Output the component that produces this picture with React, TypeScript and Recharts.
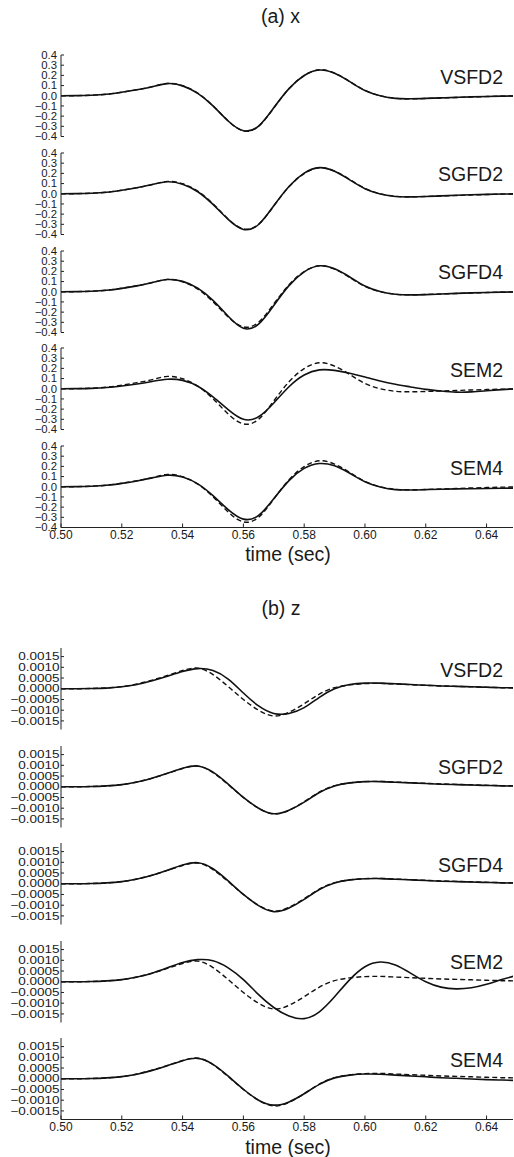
import React from 'react';
import { LineChart, Line, XAxis, YAxis } from 'recharts';

// time grid (sec)
const TIME = [
  0.5, 0.505, 0.51, 0.515, 0.52, 0.525, 0.53, 0.535, 0.54, 0.545, 0.55,
  0.555, 0.56, 0.565, 0.57, 0.575, 0.58, 0.585, 0.59, 0.595, 0.6,
  0.605, 0.61, 0.615, 0.62, 0.625, 0.63, 0.635, 0.64, 0.645, 0.65,
];
const X_TICKS = [0.5, 0.52, 0.54, 0.56, 0.58, 0.6, 0.62, 0.64];

// (a) x component — dashed reference and solid solutions
const X_REF = [0.0, 0.001, 0.005, 0.015, 0.035, 0.06, 0.09, 0.121, 0.098, 0.025, -0.098, -0.248, -0.345, -0.3, -0.12, 0.068, 0.198, 0.255, 0.222, 0.14, 0.052, 0.0, -0.025, -0.03, -0.027, -0.022, -0.017, -0.012, -0.008, -0.004, -0.002];
const X_VSFD2 = [0.0, 0.001, 0.005, 0.014, 0.034, 0.059, 0.089, 0.119, 0.097, 0.023, -0.1, -0.248, -0.343, -0.298, -0.118, 0.07, 0.199, 0.253, 0.22, 0.138, 0.051, 0.0, -0.026, -0.03, -0.026, -0.021, -0.016, -0.011, -0.007, -0.004, -0.002];
const X_SGFD2 = [0.0, 0.001, 0.005, 0.014, 0.034, 0.059, 0.09, 0.118, 0.094, 0.02, -0.105, -0.252, -0.35, -0.302, -0.118, 0.072, 0.202, 0.256, 0.22, 0.136, 0.049, -0.002, -0.027, -0.031, -0.027, -0.021, -0.015, -0.01, -0.006, -0.003, -0.001];
const X_SGFD4 = [0.0, 0.001, 0.005, 0.014, 0.033, 0.058, 0.09, 0.12, 0.102, 0.035, -0.085, -0.24, -0.358, -0.318, -0.135, 0.06, 0.195, 0.255, 0.225, 0.145, 0.056, 0.002, -0.025, -0.031, -0.028, -0.022, -0.016, -0.011, -0.007, -0.004, -0.002];
const X_SEM2 = [0.0, 0.001, 0.004, 0.012, 0.027, 0.047, 0.072, 0.093, 0.082, 0.025, -0.08, -0.205, -0.3, -0.275, -0.14, 0.02, 0.135, 0.185, 0.18, 0.152, 0.115, 0.076, 0.044, 0.018, -0.006, -0.022, -0.033, -0.031, -0.02, -0.009, 0.0];
const X_SEM4 = [0.0, 0.001, 0.005, 0.014, 0.033, 0.057, 0.087, 0.113, 0.095, 0.028, -0.088, -0.225, -0.318, -0.282, -0.118, 0.06, 0.18, 0.228, 0.205, 0.132, 0.05, -0.002, -0.028, -0.032, -0.028, -0.024, -0.021, -0.019, -0.017, -0.015, -0.013];

// (b) z component
const Z_REF = [0, 0, 0.00001, 0.00004, 0.0001, 0.00022, 0.0004, 0.00062, 0.00085, 0.00096, 0.00066, 0.0001, -0.0005, -0.001, -0.00127, -0.0011, -0.0007, -0.00025, 0.00005, 0.00018, 0.00024, 0.00025, 0.00022, 0.00019, 0.00016, 0.00013, 0.00011, 0.00009, 0.00007, 0.00005, 0.00004];
const Z_VSFD2 = [0, 0, 0.00001, 0.00003, 0.00009, 0.0002, 0.00037, 0.00058, 0.0008, 0.00094, 0.00085, 0.00045, -0.0002, -0.0008, -0.00115, -0.00115, -0.00088, -0.0004, 0, 0.0002, 0.00026, 0.00026, 0.00023, 0.0002, 0.00016, 0.00013, 0.00011, 0.00009, 0.00007, 0.00005, 0.00004];
const Z_SGFD2 = [0, 0, 0.00001, 0.00004, 0.0001, 0.00022, 0.0004, 0.00063, 0.00086, 0.00097, 0.00068, 0.00012, -0.0005, -0.001, -0.00126, -0.0011, -0.00072, -0.00027, 0.00004, 0.00018, 0.00024, 0.00024, 0.00021, 0.00018, 0.00015, 0.00012, 0.0001, 0.00008, 0.00006, 0.00004, 0.00003];
const Z_SGFD4 = [0, 0, 0.00001, 0.00004, 0.0001, 0.00022, 0.0004, 0.00063, 0.00087, 0.00098, 0.0007, 0.00013, -0.0005, -0.00102, -0.0013, -0.00113, -0.00073, -0.00027, 0.00004, 0.00018, 0.00023, 0.00024, 0.00021, 0.00018, 0.00015, 0.00012, 0.0001, 0.00008, 0.00006, 0.00004, 0.00003];
const Z_SEM2 = [0, 0, 0.00001, 0.00004, 0.0001, 0.00022, 0.0004, 0.00065, 0.0009, 0.00103, 0.00098, 0.00065, 0.0001, -0.0006, -0.0012, -0.0016, -0.00172, -0.0014, -0.0007, 0.0001, 0.0007, 0.00092, 0.00078, 0.0004, 0, -0.00025, -0.00033, -0.00028, -0.00012, 0.0001, 0.0003];
const Z_SEM4 = [0, 0, 0.00001, 0.00004, 0.0001, 0.00021, 0.00039, 0.00061, 0.00084, 0.00095, 0.00067, 0.00012, -0.00049, -0.001, -0.00123, -0.00108, -0.0007, -0.00026, 0.00004, 0.00017, 0.00022, 0.00021, 0.00017, 0.00013, 0.00009, 0.00005, 0.00002, -0.00001, -0.00004, -0.00006, -0.00008];

const METHODS = ['VSFD2', 'SGFD2', 'SGFD4', 'SEM2', 'SEM4'];
const X_SOLIDS = [X_VSFD2, X_SGFD2, X_SGFD4, X_SEM2, X_SEM4];
const Z_SOLIDS = [Z_VSFD2, Z_SGFD2, Z_SGFD4, Z_SEM2, Z_SEM4];

const X_YTICKS = [-0.4, -0.3, -0.2, -0.1, 0, 0.1, 0.2, 0.3, 0.4];
const Z_YTICKS = [-0.0015, -0.001, -0.0005, 0, 0.0005, 0.001, 0.0015];

const FONT = '"Liberation Sans", Arial, sans-serif';
const INK = '#1a1a1a';

const fmtSigned = (digits: number) => (v: number) =>
  (v < 0 ? '\u2212' : '') + Math.abs(v).toFixed(digits);

const buildRows = (solid: number[], ref: number[]) =>
  TIME.map((t, i) => ({ t, solid: solid[i], ref: ref[i] }));

interface PanelProps {
  top: number;
  plotH: number;
  rows: { t: number; solid: number; ref: number }[];
  yDomain: [number, number];
  yTicks: number[];
  fmt: (v: number) => string;
  yFont: number;
  yScale: number;
  yMargin: number;
  showX: boolean;
  label: string;
}

const Panel: React.FC<PanelProps> = ({
  top, plotH, rows, yDomain, yTicks, fmt, yFont, yScale, yMargin, showX, label,
}) => {
  const padTop = 8;
  const bottomAxisH = showX ? 20 : 0;
  const padBottom = showX ? 2 : 8;
  const h = padTop + plotH + bottomAxisH + padBottom;

  const yTick = (p: any) => (
    <g transform={`translate(${p.x},${p.y})`}>
      <text
        transform={`scale(${yScale},1)`}
        textAnchor="end"
        dy="0.36em"
        fontSize={yFont}
        fontFamily={FONT}
        fill={INK}
      >
        {fmt(p.payload.value)}
      </text>
    </g>
  );

  return (
    <>
      <div style={{ position: 'absolute', left: 0, top: top - padTop }}>
        <LineChart
          width={514}
          height={h}
          data={rows}
          margin={{ top: padTop, right: 1, left: 11, bottom: padBottom }}
        >
          <XAxis
            xAxisId="b"
            dataKey="t"
            type="number"
            domain={[0.5, 0.6487]}
            allowDataOverflow
            ticks={X_TICKS}
            interval={0}
            height={bottomAxisH}
            tickSize={-4}
            tickMargin={7}
            stroke="#222"
            tickLine={{ stroke: '#222' }}
            tick={showX ? { fontSize: 12, fill: INK, fontFamily: FONT } : false}
            tickFormatter={(v: number) => v.toFixed(2)}
          />
          <XAxis
            xAxisId="t"
            orientation="top"
            dataKey="t"
            type="number"
            domain={[0.5, 0.6487]}
            allowDataOverflow
            ticks={X_TICKS}
            interval={0}
            height={0}
            tickSize={-4}
            stroke="#555"
            tick={false}
          />
          <YAxis
            yAxisId="l"
            type="number"
            domain={yDomain}
            allowDataOverflow
            ticks={yTicks}
            interval={0}
            width={50}
            tickSize={-3}
            tickMargin={yMargin}
            stroke="#222"
            tick={yTick}
          />
          <YAxis
            yAxisId="r"
            orientation="right"
            type="number"
            domain={yDomain}
            allowDataOverflow
            ticks={yTicks}
            interval={0}
            width={0}
            tickSize={-3}
            stroke="#555"
            tick={false}
          />
          <Line
            xAxisId="b"
            yAxisId="l"
            type="natural"
            dataKey="solid"
            stroke="#111"
            strokeWidth={1.6}
            dot={false}
            activeDot={false}
            isAnimationActive={false}
          />
          <Line
            xAxisId="b"
            yAxisId="l"
            type="natural"
            dataKey="ref"
            stroke="#111"
            strokeWidth={1.4}
            strokeDasharray="5 3"
            dot={false}
            activeDot={false}
            isAnimationActive={false}
          />
        </LineChart>
      </div>
      <div
        style={{
          position: 'absolute',
          left: 0,
          width: 503,
          top: top + 12.7,
          textAlign: 'right',
          fontSize: 19.5,
          lineHeight: '19.5px',
          color: INK,
          fontFamily: FONT,
        }}
      >
        {label}
      </div>
    </>
  );
};

const Caption: React.FC<{ text: string; cx: number; top: number }> = ({ text, cx, top }) => (
  <div
    style={{
      position: 'absolute',
      left: cx - 100,
      width: 200,
      top,
      textAlign: 'center',
      fontSize: 19.5,
      lineHeight: '19.5px',
      color: INK,
      fontFamily: FONT,
    }}
  >
    {text}
  </div>
);

export default function App() {
  return (
    <div
      style={{
        position: 'absolute',
        left: 0,
        top: 0,
        width: 514,
        height: 1157,
        overflow: 'hidden',
        background: '#fff',
        fontFamily: FONT,
      }}
    >
      <Caption text="(a) x" cx={280.5} top={7.4} />
      {METHODS.map((m, i) => (
        <Panel
          key={'x' + m}
          top={55 + i * 97.75}
          plotH={81.5}
          rows={buildRows(X_SOLIDS[i], X_REF)}
          yDomain={[-0.4, 0.4]}
          yTicks={X_YTICKS}
          fmt={fmtSigned(1)}
          yFont={10.5}
          yScale={1.08}
          yMargin={7}
          showX={i === 4}
          label={m}
        />
      ))}
      <Caption text="time (sec)" cx={288} top={544.5} />

      <Caption text="(b) z" cx={281} top={599.4} />
      {METHODS.map((m, i) => (
        <Panel
          key={'z' + m}
          top={648 + i * 97.5}
          plotH={81.5}
          rows={buildRows(Z_SOLIDS[i], Z_REF)}
          yDomain={[-0.0019, 0.0019]}
          yTicks={Z_YTICKS}
          fmt={fmtSigned(4)}
          yFont={10.4}
          yScale={1.3}
          yMargin={4.5}
          showX={i === 4}
          label={m}
        />
      ))}
      <Caption text="time (sec)" cx={288} top={1137.5} />
    </div>
  );
}
